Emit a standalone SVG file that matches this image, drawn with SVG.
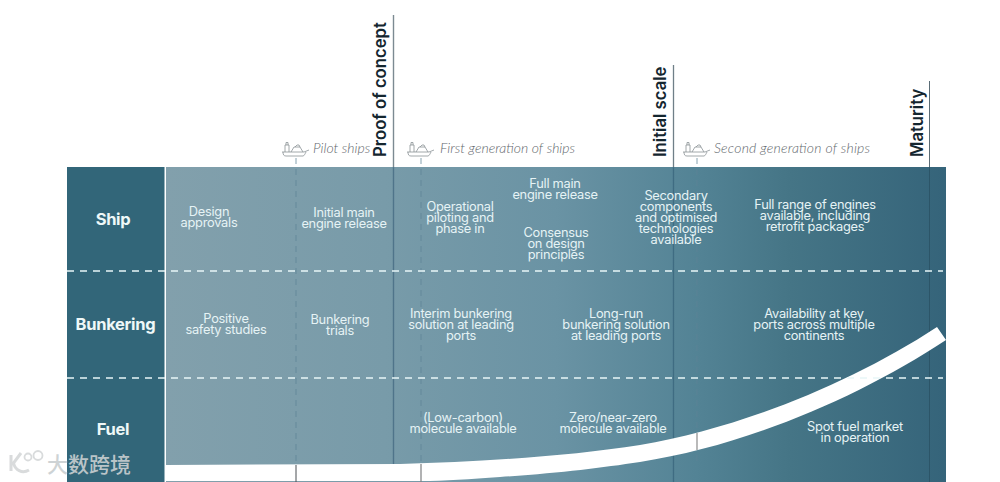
<svg xmlns="http://www.w3.org/2000/svg" width="1000" height="482" viewBox="0 0 1000 482">
<style>
.t{font-family:"Inter","Liberation Sans",sans-serif;font-size:12.8px;fill:#e6f3f5;text-anchor:middle;letter-spacing:-.25px}
.h{font-family:"Inter","Liberation Sans",sans-serif;font-size:16.5px;font-weight:700;fill:#eef8f8;text-anchor:middle;letter-spacing:-.3px}
.m{font-family:"Inter","Liberation Sans",sans-serif;font-size:16.700px;font-weight:600;fill:#14262f;text-anchor:start}
.s{font-family:"Lato","Liberation Sans",sans-serif;font-size:14px;font-style:italic;font-weight:300;fill:#5f686d}
.d{stroke:#5f8496;stroke-width:1;stroke-dasharray:6 5;fill:none;stroke-opacity:.75}
.r{stroke:#e8f6f8;stroke-width:1.6;stroke-dasharray:7 6;fill:none}
.i{fill:none;stroke:#8a9296;stroke-width:.8}
</style>
<defs>
<linearGradient id="g" gradientUnits="userSpaceOnUse" x1="166" y1="0" x2="946" y2="0">
<stop offset="0" stop-color="#82a0ac"/><stop offset=".28" stop-color="#789ba9"/><stop offset=".5" stop-color="#6a93a4"/><stop offset=".68" stop-color="#538395"/><stop offset=".8" stop-color="#457586"/><stop offset="1" stop-color="#35647a"/>
</linearGradient>
<g id="ship"><path class="i" d="M0,10 H22 L27,8 M1,10 C1,13 2,14 4,14 H21 C22,14 23,12 24,10 M3,10 V3 H7 V10 M4,3 V0.5 H6 V3 M9,10 L12,5 H18 L21,10 M13,5 L15,3 H17 L18,5"/></g>
</defs>
<g id="panel"><rect x="166" y="167" width="780" height="315" fill="url(#g)"/></g>
<g id="connectors">
<path d="M393.500,15V167" stroke="#7c8a92" stroke-width="1.400"/>
<path d="M393.500,167V465" stroke="#4f748a" stroke-width="1.400"/>
<path d="M673.500,65V167" stroke="#6f7f88" stroke-width="1.300"/>
<path d="M673.500,167V482" stroke="#3f6c82" stroke-width="1.300"/>
<path d="M929.500,81V167" stroke="#5a6c76" stroke-width="1"/>
<path d="M929.500,167V482" stroke="#2c5568" stroke-width="1"/>
<path class="d" d="M296,158V465"/><path class="d" d="M421,158V465"/><path class="d" d="M697,158V465"/>
</g>
<g id="curve">
<path d="M166,465 L400,464 C480,462 570,456 640,445 C740,428 850,384 937,327 L946,340 C860,397 745,446 640,462 C600,468 560,473 500,477 C470,479 445,481 420,481 L166,481 Z" fill="#fff"/>
<path d="M296,465V482" stroke="#4a4f52" stroke-width="1"/>
<path d="M421,464V482" stroke="#7d7f80" stroke-width="1.200"/>
<path d="M697,433V450" stroke="#8b8b8b" stroke-width="1.200"/>
</g>
<g id="rows">
<rect x="67" y="167" width="97.500" height="315" fill="#326679"/>
<path class="r" d="M67,271H943"/><path class="r" d="M67,378H943"/>
</g>
<g id="row-ship"><text class="h" x="113" y="225">Ship</text></g>
<g id="row-bunkering"><text class="h" x="115.500" y="330">Bunkering</text></g>
<g id="row-fuel"><text class="h" x="113" y="435">Fuel</text></g>
<g id="proof"><text class="m" transform="translate(386,157) rotate(-90)">Proof of concept</text></g>
<g id="initial"><text class="m" transform="translate(666,157) rotate(-90)">Initial scale</text></g>
<g id="maturity"><text class="m" transform="translate(923,157) rotate(-90)">Maturity</text></g>
<g id="pilot"><use href="#ship" x="282" y="142"/><text class="s" x="313" y="153">Pilot ships</text></g>
<g id="first"><use href="#ship" x="407" y="142"/><text class="s" x="440" y="153">First generation of ships</text></g>
<g id="second"><use href="#ship" x="683" y="142"/><text class="s" x="714" y="153" textLength="156">Second generation of ships</text></g>
<g id="n1"><text class="t" y="216"><tspan x="209">Design</tspan><tspan x="209" dy="11">approvals</tspan></text></g>
<g id="n2"><text class="t" y="216.500"><tspan x="344">Initial main</tspan><tspan x="344" dy="11">engine release</tspan></text></g>
<g id="n3"><text class="t" y="211"><tspan x="460">Operational</tspan><tspan x="460" dy="11">piloting and</tspan><tspan x="460" dy="11">phase in</tspan></text></g>
<g id="n4"><text class="t" y="188"><tspan x="555">Full main</tspan><tspan x="555" dy="11">engine release</tspan></text></g>
<g id="n5"><text class="t" y="237"><tspan x="556">Consensus</tspan><tspan x="556" dy="11">on design</tspan><tspan x="556" dy="11">principles</tspan></text></g>
<g id="n6"><text class="t" y="200"><tspan x="676">Secondary</tspan><tspan x="676" dy="11">components</tspan><tspan x="676" dy="11">and optimised</tspan><tspan x="676" dy="11">technologies</tspan><tspan x="676" dy="11">available</tspan></text></g>
<g id="n7"><text class="t" y="209"><tspan x="815">Full range of engines</tspan><tspan x="815" dy="11">available, including</tspan><tspan x="815" dy="11">retrofit packages</tspan></text></g>
<g id="n8"><text class="t" y="323"><tspan x="226">Positive</tspan><tspan x="226" dy="11">safety studies</tspan></text></g>
<g id="n9"><text class="t" y="324"><tspan x="340">Bunkering</tspan><tspan x="340" dy="11">trials</tspan></text></g>
<g id="n10"><text class="t" y="318"><tspan x="461">Interim bunkering</tspan><tspan x="461" dy="11">solution at leading</tspan><tspan x="461" dy="11">ports</tspan></text></g>
<g id="n11"><text class="t" y="318"><tspan x="616">Long-run</tspan><tspan x="616" dy="11">bunkering solution</tspan><tspan x="616" dy="11">at leading ports</tspan></text></g>
<g id="n12"><text class="t" y="318"><tspan x="814">Availability at key</tspan><tspan x="814" dy="11">ports across multiple</tspan><tspan x="814" dy="11">continents</tspan></text></g>
<g id="n13"><text class="t" y="422"><tspan x="463">(Low-carbon)</tspan><tspan x="463" dy="11">molecule available</tspan></text></g>
<g id="n14"><text class="t" y="422"><tspan x="613">Zero/near-zero</tspan><tspan x="613" dy="11">molecule available</tspan></text></g>
<g id="n15"><text class="t" y="431"><tspan x="855">Spot fuel market</tspan><tspan x="855" dy="11">in operation</tspan></text></g>
<g id="watermark" opacity=".9">
<path d="M11,455V471M21,453L13.500,463C15,470 22,474 29,470" fill="none" stroke="#d5d8d9" stroke-width="3"/>
<circle cx="28" cy="457" r="3.500" fill="none" stroke="#d5d8d9" stroke-width="1.800"/><circle cx="38" cy="455.500" r="4.500" fill="none" stroke="#d5d8d9" stroke-width="1.800"/>
<text x="47" y="472" font-family="'Noto Sans CJK SC',sans-serif" font-size="21" font-weight="500" fill="#c9cfd1">大数跨境</text>
</g>
</svg>
